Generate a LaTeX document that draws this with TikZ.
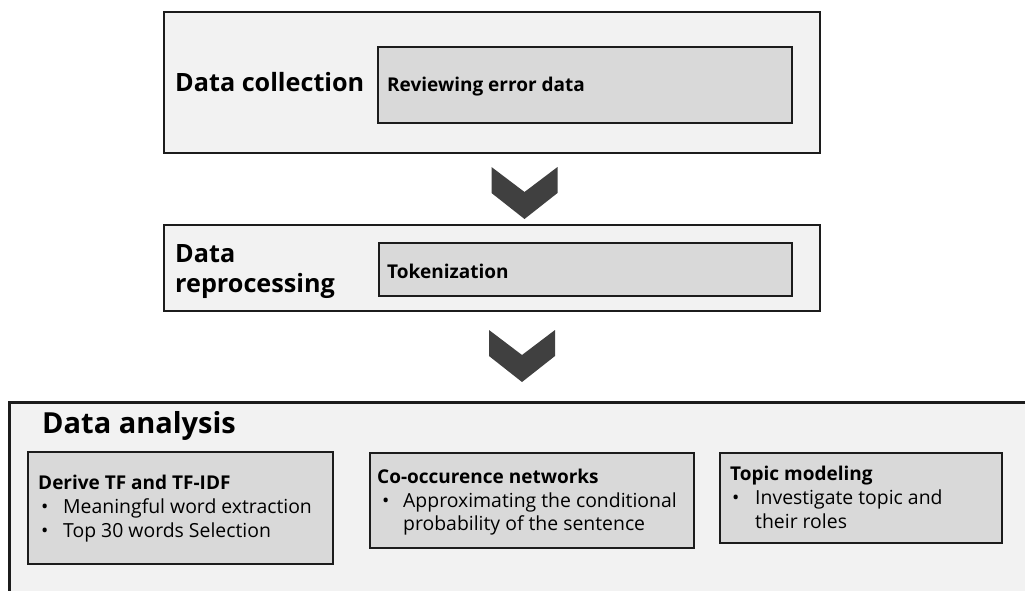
\documentclass[tikz,border=0pt]{standalone}
\usepackage{fontspec}
\setmainfont{Open Sans}
\definecolor{panelfill}{HTML}{F2F2F2}
\definecolor{stepfill}{HTML}{D9D9D9}
\definecolor{edge}{HTML}{1C1C1C}
\definecolor{chevfill}{HTML}{404040}
\begin{document}
\begin{tikzpicture}[x=1pt,y=-1pt,
  panel/.style={rectangle, draw=edge, line width=2.8pt, fill=panelfill, inner sep=0pt},
  stepbox/.style={rectangle, draw=edge, line width=2.8pt, fill=stepfill, inner sep=0pt},
  label/.style={anchor=base west, inner sep=0pt, text=black},
  heading/.style={label, font=\fontsize{25.2}{30}\selectfont\bfseries},
  subhead/.style={label, font=\fontsize{19}{23}\selectfont\bfseries},
  body/.style={label, font=\fontsize{19.4}{23}\selectfont},
  pics/chevron/.style={code={
    \fill[chevfill] (-33,0) -- (0,25) -- (33,0) -- (33,26) -- (0,52) -- (-33,26) -- cycle;}}
]
\useasboundingbox (0,0) rectangle (1025,591);
\fill[white] (0,0) rectangle (1025,591);
\clip (0,0) rectangle (1025,591);

% --- Stage 1: data collection
\node[panel, minimum width=656pt, minimum height=141pt] (collect) at (492,82.5) {};
\node[stepbox, minimum width=414pt, minimum height=76pt] (review) at (585,85) {};
\node[heading] (collectT) at (175,92) {Data collection};
\node[subhead] (reviewT) at (387,92) {Reviewing error data};

% --- Stage 2: preprocessing
\node[panel, minimum width=656pt, minimum height=86pt] (prep) at (492,268) {};
\node[stepbox, minimum width=413pt, minimum height=53pt] (token) at (585.5,269.5) {};
\node[heading] (prepA) at (175,262) {Data};
\node[heading] (prepB) at (175,292) {reprocessing};
\node[subhead] (tokenT) at (387,278) {Tokenization};

% --- Stage 3: analysis (open to the right and bottom)
\node[rectangle, fill=panelfill, draw=none, minimum width=1030pt, minimum height=197pt, inner sep=0pt] (ana) at (525,501.5) {};
\draw[edge, line width=2.8pt] (ana.south west) -- (ana.north west) -- (ana.north east);
\node[label, font=\fontsize{29}{33}\selectfont\bfseries] (anaT) at (42,433) {Data analysis};

% TF / TF-IDF
\node[stepbox, minimum width=305pt, minimum height=112pt] (tf) at (180.5,508) {};
\node[subhead] (tfT) at (38,489) {Derive TF and TF-IDF};
\node[body] (tfB1) at (41,513) {•};
\node[body] (tfL1) at (63,513) {Meaningful word extraction};
\node[body] (tfB2) at (41,537) {•};
\node[body] (tfL2) at (63,537) {Top 30 words Selection};

% co-occurrence networks
\node[stepbox, minimum width=324pt, minimum height=95pt] (net) at (532,500.5) {};
\node[subhead] (netT) at (377,483) {Co-occurence networks};
\node[body] (netB1) at (382,507) {•};
\node[body] (netL1) at (403,507) {Approximating the conditional};
\node[body] (netL2) at (403,530) {probability of the sentence};

% topic modeling
\node[stepbox, minimum width=282pt, minimum height=90pt] (topic) at (861,498) {};
\node[subhead] (topicT) at (730,480) {Topic modeling};
\node[body] (topicB1) at (732,504) {•};
\node[body] (topicL1) at (755,504) {Investigate topic and};
\node[body] (topicL2) at (755,528) {their roles};

% flow chevrons between stages
\coordinate (arrowA) at (524.5,167);
\coordinate (arrowB) at (522,330);
\pic at (arrowA) {chevron};
\pic at (arrowB) {chevron};
\end{tikzpicture}
\end{document}
